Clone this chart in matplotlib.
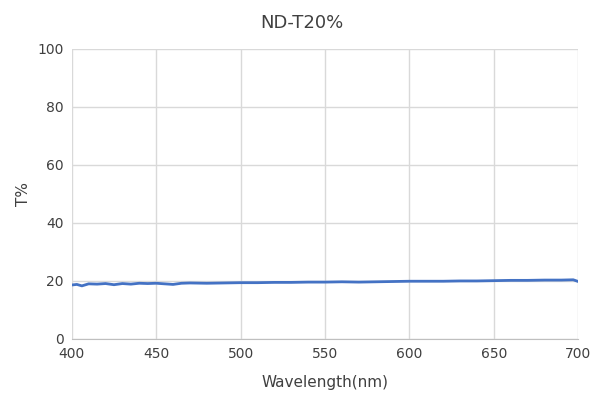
import matplotlib
matplotlib.use("Agg")
import matplotlib.pyplot as plt

wavelength = [400, 403, 406, 410, 415, 420, 425, 430, 435, 440, 445, 450, 455, 460, 465, 470,
              480, 490, 500, 510, 520, 530, 540, 550, 560, 570, 580, 590, 600, 610, 620,
              630, 640, 650, 660, 670, 680, 690, 697, 700]
transmission = [18.6, 18.8, 18.3, 19.0, 18.9, 19.1, 18.7, 19.1, 18.9, 19.2, 19.1, 19.2, 19.0, 18.8,
                19.2, 19.3, 19.2, 19.3, 19.4, 19.4, 19.5, 19.5, 19.6, 19.6, 19.7, 19.6, 19.7, 19.8,
                19.9, 19.9, 19.9, 20.0, 20.0, 20.1, 20.2, 20.2, 20.3, 20.3, 20.4, 19.8]

fig = plt.figure(figsize=(6.03, 4.04), dpi=100)
ax = fig.add_axes([0.119, 0.161, 0.840, 0.718])
ax.plot(wavelength, transmission, color="#4472C4", lw=2)
ax.set_xlim(400, 700)
ax.set_ylim(0, 100)
ax.set_xticks(range(400, 701, 50))
ax.set_yticks(range(0, 101, 20))
ax.grid(color="#D9D9D9", lw=1)
ax.set_axisbelow(True)
for s in ["top", "right", "left"]:
    ax.spines[s].set_visible(False)
ax.spines["bottom"].set_color("#BFBFBF")
ax.tick_params(length=0, labelsize=10, colors="#404040", pad=6)
ax.set_xlabel("Wavelength(nm)", fontsize=11, color="#404040", labelpad=10)
ax.set_ylabel("T%", fontsize=11, color="#404040", labelpad=4)
fig.suptitle("ND-T20%", fontsize=13, color="#404040", y=0.965)
fig.savefig("out.png", dpi=100)
